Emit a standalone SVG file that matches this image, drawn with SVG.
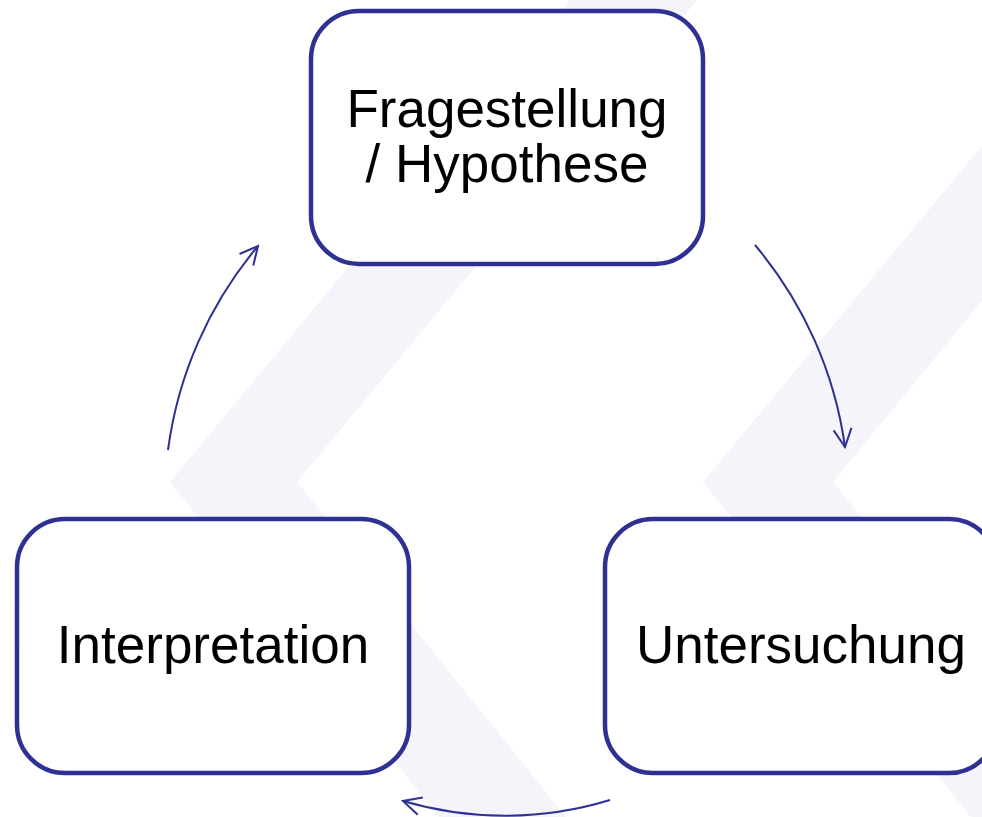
<svg xmlns="http://www.w3.org/2000/svg" width="982" height="817" viewBox="0 0 982 817">
<style>
.bg{fill:#f4f4fa;stroke:none}
.box{fill:#ffffff;stroke:#2e3192;stroke-width:4.5}
.lbl{font-family:"Liberation Sans",Arial,sans-serif;font-size:53px;fill:#000000;text-anchor:middle}
.conn{fill:none;stroke:#2e3192;stroke-width:2}
</style>
<defs>
<marker id="arr" markerUnits="userSpaceOnUse" viewBox="-22 -12 26 24" refX="0" refY="0" markerWidth="26" markerHeight="24" orient="auto">
<path d="M-18,-9 L0,0 L-18,9" fill="none" stroke="#2e3192" stroke-width="2"/>
</marker>
</defs>
<rect width="982" height="817" fill="#ffffff"/>
<g id="background">
<polygon class="bg" points="570,0 697,0 297,482 566,817 439,817 170,482"/>
<polygon class="bg" points="1103,0 1230,0 833,482 1101,817 971,817 703,482"/>
</g>
<g id="connectors">
<path class="conn" d="M755,245 A398,398 0 0 1 845,447" marker-end="url(#arr)"/>
<path class="conn" d="M610,800 A360,360 0 0 1 403,801" marker-end="url(#arr)"/>
<path class="conn" d="M168,450 A398,398 0 0 1 258,246" marker-end="url(#arr)"/>
</g>
<g id="node-frage">
<rect class="box" x="311" y="11" width="392" height="253" rx="48" ry="48"/>
<text class="lbl" x="507" y="127">Fragestellung</text>
<text class="lbl" x="507" y="182">/ Hypothese</text>
</g>
<g id="node-untersuchung">
<rect class="box" x="605" y="519" width="392" height="254" rx="48" ry="48"/>
<text class="lbl" x="801" y="663">Untersuchung</text>
</g>
<g id="node-interpretation">
<rect class="box" x="17" y="519" width="392" height="254" rx="48" ry="48"/>
<text class="lbl" x="213" y="663">Interpretation</text>
</g>
</svg>
